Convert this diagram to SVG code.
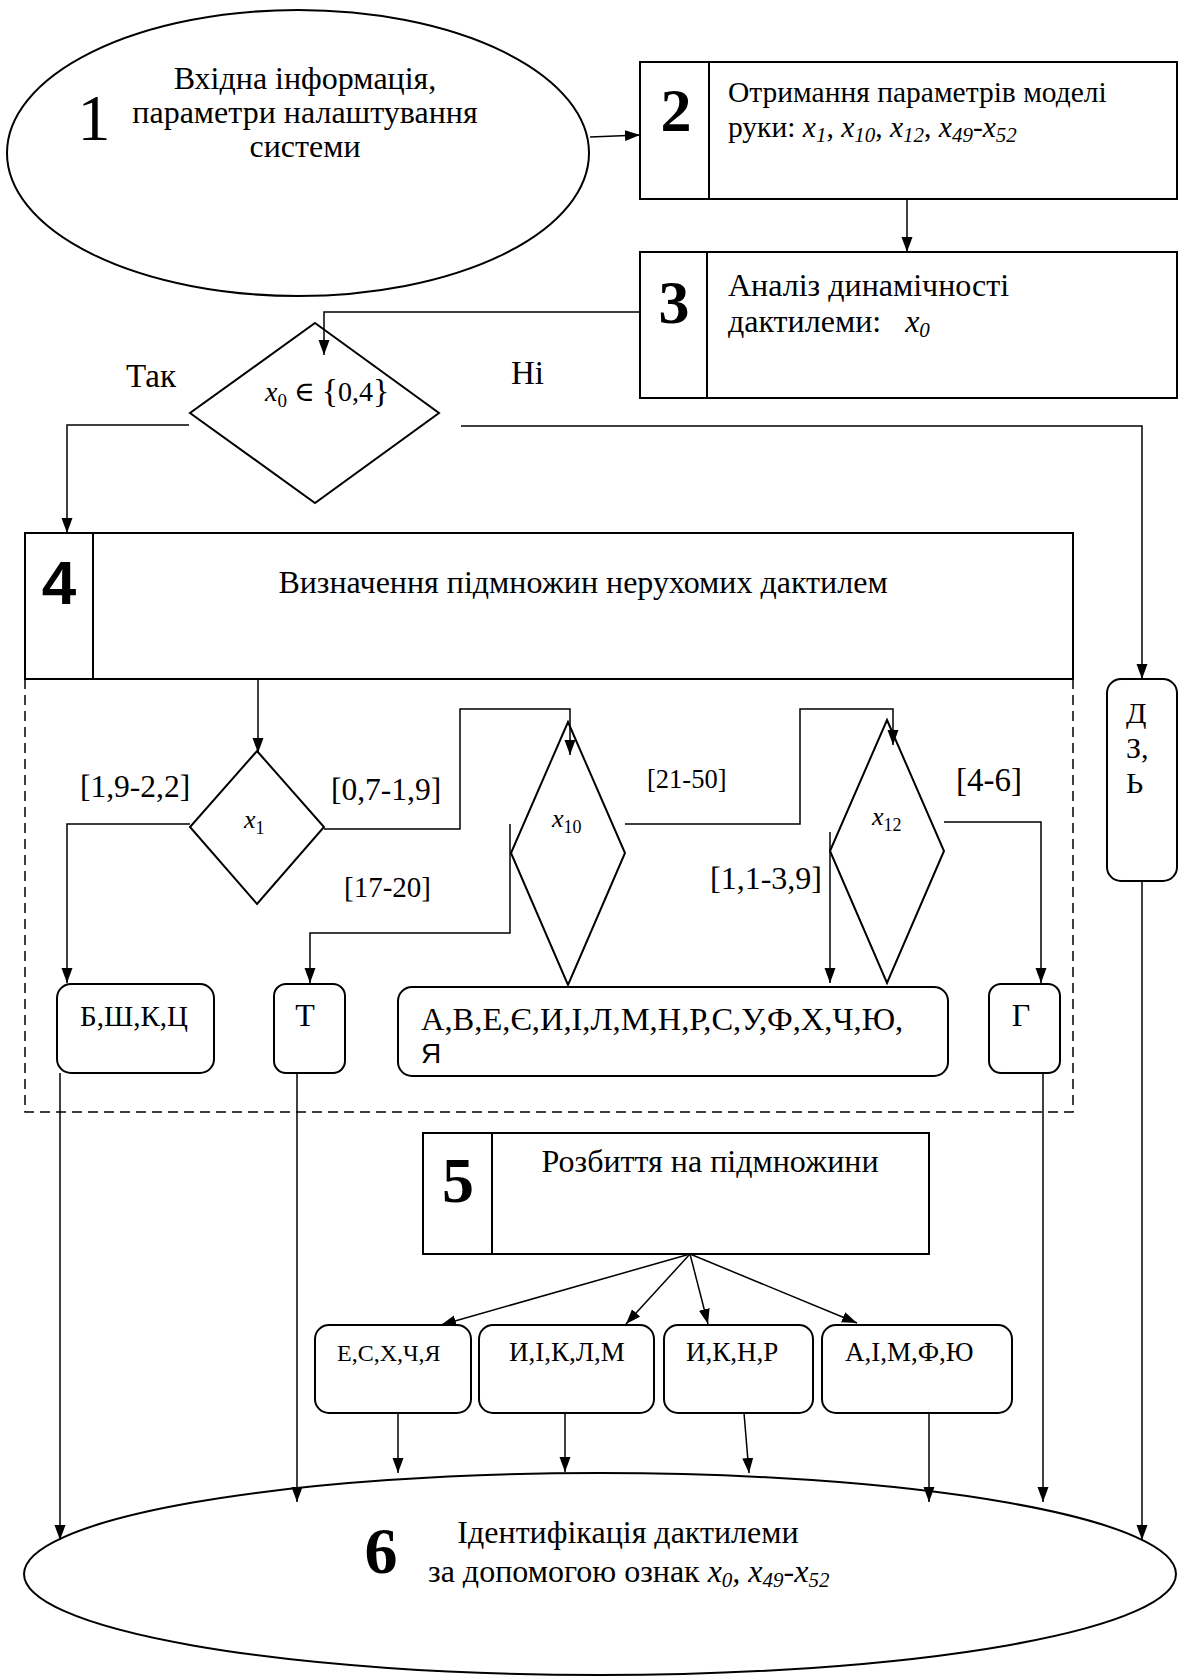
<svg xmlns="http://www.w3.org/2000/svg" width="1178" height="1677" viewBox="0 0 1178 1677">
<style>
text{font-family:"Liberation Serif","DejaVu Serif",serif;fill:#000}
.b{font-weight:bold}
.i{font-style:italic}
.nd{fill:#fff;stroke:#000;stroke-width:2}
.c{fill:none;stroke:#000;stroke-width:1.5}
.d{fill:none;stroke:#000;stroke-width:1.5;stroke-dasharray:10 6}
.m{font-size:32px}
.m2{font-size:29.5px}
.lb{font-size:31.5px}
.s{font-size:27px}
.sub{font-size:21px;font-style:italic}
</style>
<defs>
<marker id="a" markerUnits="userSpaceOnUse" markerWidth="16" markerHeight="12" refX="15" refY="5.5" orient="auto">
<path d="M0,0 L15,5.5 L0,11 z" fill="#000"/>
</marker>
</defs>
<rect width="1178" height="1677" fill="#fff"/>

<g id="n1">
<ellipse class="nd" cx="298" cy="153" rx="291" ry="143"/>
<text x="94" y="140" font-size="66" text-anchor="middle">1</text>
<text class="m" x="305" y="89" text-anchor="middle">Вхідна інформація,</text>
<text class="m" x="305" y="123" text-anchor="middle">параметри налаштування</text>
<text class="m" x="305" y="157" text-anchor="middle">системи</text>
</g>

<g id="n2">
<rect class="nd" x="640" y="62" width="537" height="137"/>
<line class="nd" x1="709" y1="62" x2="709" y2="199"/>
<text class="b" x="676" y="131" font-size="62" text-anchor="middle">2</text>
<text class="m2" x="728" y="102">Отримання параметрів моделі</text>
<text class="m2" x="728" y="137">руки: <tspan class="i">x</tspan><tspan class="sub" dy="5">1</tspan><tspan dy="-5">, </tspan><tspan class="i">x</tspan><tspan class="sub" dy="5">10</tspan><tspan dy="-5">, </tspan><tspan class="i">x</tspan><tspan class="sub" dy="5">12</tspan><tspan dy="-5">, </tspan><tspan class="i">x</tspan><tspan class="sub" dy="5">49</tspan><tspan dy="-5">-</tspan><tspan class="i">x</tspan><tspan class="sub" dy="5">52</tspan></text>
</g>

<g id="n3">
<rect class="nd" x="640" y="252" width="537" height="146"/>
<line class="nd" x1="707" y1="252" x2="707" y2="398"/>
<text class="b" x="674" y="323" font-size="62" text-anchor="middle">3</text>
<text class="m" x="728" y="296">Аналіз динамічності</text>
<text class="m" x="728" y="332" xml:space="preserve">дактилеми:   <tspan class="i">x</tspan><tspan class="sub" dy="5">0</tspan></text>
</g>

<g id="d0">
<polygon class="nd" points="315,323 439,413 315,503 190,413"/>
<text x="265" y="401" font-size="28"><tspan class="i">x</tspan><tspan font-size="19" dy="6">0</tspan><tspan dy="-6"> ∈ </tspan><tspan font-size="34" dy="1">{</tspan><tspan dy="-1">0,4</tspan><tspan font-size="34" dy="1">}</tspan></text>
</g>

<g id="n4">
<rect class="nd" x="25" y="533" width="1048" height="146"/>
<line class="nd" x1="93" y1="533" x2="93" y2="679"/>
<text x="59" y="604" font-size="62" font-weight="bold" text-anchor="middle" style="font-family:'Liberation Sans',Arial,sans-serif">4</text>
<text class="m" x="583" y="593" text-anchor="middle">Визначення підмножин нерухомих дактилем</text>
</g>

<g id="region4">
<path class="d" d="M25,679 V1112 H1073 V679"/>
</g>

<g id="dx1">
<polygon class="nd" points="257,751 324,827 257,904 190,827"/>
<text x="244" y="828" font-size="26"><tspan class="i">x</tspan><tspan font-size="18" dy="6">1</tspan></text>
</g>

<g id="dx10">
<polygon class="nd" points="568,722 625,853 568,985 511,853"/>
<text x="552" y="827" font-size="26"><tspan class="i">x</tspan><tspan font-size="18" dy="6">10</tspan></text>
</g>

<g id="dx12">
<polygon class="nd" points="887,720 944,851 887,983 830,851"/>
<text x="872" y="825" font-size="26"><tspan class="i">x</tspan><tspan font-size="18" dy="6">12</tspan></text>
</g>

<g id="nB">
<rect class="nd" x="57" y="984" width="157" height="89" rx="14"/>
<text x="80" y="1026" font-size="29">Б,Ш,К,Ц</text>
</g>
<g id="nT">
<rect class="nd" x="274" y="984" width="71" height="89" rx="12"/>
<text class="m" x="305" y="1026" text-anchor="middle">Т</text>
</g>
<g id="nA">
<rect class="nd" x="398" y="987" width="550" height="89" rx="14"/>
<text x="421" y="1030" font-size="32.5">А,В,Е,Є,И,І,Л,М,Н,Р,С,У,Ф,Х,Ч,Ю,</text>
<text x="421" y="1063" font-size="28" style="font-family:'Liberation Sans',Arial,sans-serif">Я</text>
</g>
<g id="nG">
<rect class="nd" x="989" y="984" width="71" height="89" rx="12"/>
<text class="m" x="1021" y="1026" text-anchor="middle">Г</text>
</g>
<g id="nD">
<rect class="nd" x="1107" y="679" width="70" height="202" rx="14"/>
<text font-size="30" x="1126" y="723">Д</text>
<text font-size="30" x="1126" y="758">З,</text>
<text font-size="30" x="1126" y="793">Ь</text>
</g>

<g id="n5">
<rect class="nd" x="423" y="1133" width="506" height="121"/>
<line class="nd" x1="492" y1="1133" x2="492" y2="1254"/>
<text class="b" x="458" y="1202" font-size="64" text-anchor="middle">5</text>
<text class="m" x="710" y="1172" text-anchor="middle">Розбиття на підмножини</text>
</g>

<g id="s1"><rect class="nd" x="315" y="1325" width="156" height="88" rx="14"/><text x="337" y="1361" font-size="24">Е,С,Х,Ч,Я</text></g>
<g id="s2"><rect class="nd" x="479" y="1325" width="175" height="88" rx="14"/><text class="s" x="509" y="1361">И,І,К,Л,М</text></g>
<g id="s3"><rect class="nd" x="664" y="1325" width="149" height="88" rx="14"/><text class="s" x="686" y="1361">И,К,Н,Р</text></g>
<g id="s4"><rect class="nd" x="822" y="1325" width="190" height="88" rx="14"/><text class="s" x="845" y="1361">А,І,М,Ф,Ю</text></g>

<g id="n6">
<ellipse class="nd" cx="600" cy="1574" rx="576" ry="101"/>
<text class="b" x="381" y="1573" font-size="66" text-anchor="middle">6</text>
<text class="m" x="628" y="1543" text-anchor="middle">Ідентифікація дактилеми</text>
<text class="m" x="428" y="1582">за допомогою ознак <tspan class="i">x</tspan><tspan class="sub" dy="5">0</tspan><tspan class="i" dy="-5">, x</tspan><tspan class="sub" dy="5">49</tspan><tspan dy="-5">-</tspan><tspan class="i">x</tspan><tspan class="sub" dy="5">52</tspan></text>
</g>

<g id="labels">
<text font-size="33" x="126" y="387">Так</text>
<text font-size="33" x="511" y="384">Ні</text>
<text class="lb" x="80" y="797">[1,9-2,2]</text>
<text class="lb" x="331" y="800">[0,7-1,9]</text>
<text font-size="29" x="344" y="897">[17-20]</text>
<text x="647" y="788" font-size="26.5">[21-50]</text>
<text font-size="32" x="710" y="889">[1,1-3,9]</text>
<text font-size="33" x="956" y="791">[4-6]</text>
</g>

<g id="connectors">
<path class="c" d="M590,137 L640,135" marker-end="url(#a)"/>
<path class="c" d="M907,199 V252" marker-end="url(#a)"/>
<path class="c" d="M640,312 H324 V355" marker-end="url(#a)"/>
<path class="c" d="M189,425 H67 V533" marker-end="url(#a)"/>
<path class="c" d="M461,426 H1142 V679" marker-end="url(#a)"/>
<path class="c" d="M258,679 V753" marker-end="url(#a)"/>
<path class="c" d="M190,824 H67 V983" marker-end="url(#a)"/>
<path class="c" d="M324,829 H460 V709 H570 V755" marker-end="url(#a)"/>
<path class="c" d="M510,824 V933 H310 V983" marker-end="url(#a)"/>
<path class="c" d="M625,824 H800 V709 H893 V745" marker-end="url(#a)"/>
<path class="c" d="M830,832 V983" marker-end="url(#a)"/>
<path class="c" d="M944,822 H1041 V983" marker-end="url(#a)"/>
<path class="c" d="M60,1073 V1540" marker-end="url(#a)"/>
<path class="c" d="M297,1073 V1502" marker-end="url(#a)"/>
<path class="c" d="M1043,1073 V1502" marker-end="url(#a)"/>
<path class="c" d="M1142,881 V1540" marker-end="url(#a)"/>
<path class="c" d="M690,1254 L441,1325" marker-end="url(#a)"/>
<path class="c" d="M690,1254 L626,1324" marker-end="url(#a)"/>
<path class="c" d="M690,1254 L708,1324" marker-end="url(#a)"/>
<path class="c" d="M690,1254 L857,1323" marker-end="url(#a)"/>
<path class="c" d="M398,1413 V1473" marker-end="url(#a)"/>
<path class="c" d="M565,1413 V1472" marker-end="url(#a)"/>
<path class="c" d="M744,1413 L749,1473" marker-end="url(#a)"/>
<path class="c" d="M929,1413 V1502" marker-end="url(#a)"/>
</g>
</svg>
